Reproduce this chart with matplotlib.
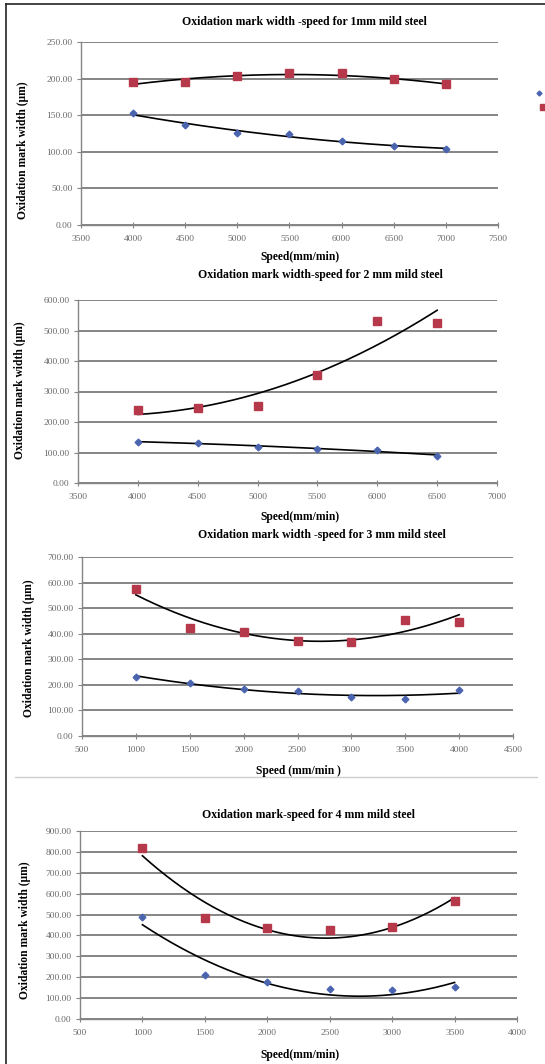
import numpy as np
import matplotlib
matplotlib.use('Agg')
import matplotlib.pyplot as plt
from matplotlib.lines import Line2D

# размеры картинки в пикселях
W, H = 545, 1064

# --- данные ---
# 1 мм
speed_1mm = [4000, 4500, 5000, 5500, 6000, 6500, 7000]
blue_1mm = [153, 136, 126, 124, 115, 108, 104]
red_1mm = [195, 195, 203, 207, 207, 199, 192]

# 2 мм
speed_2mm = [4000, 4500, 5000, 5500, 6000, 6500]
blue_2mm = [136, 130, 119, 113, 107, 90]
red_2mm = [240, 245, 251, 354, 531, 526]

# 3 мм
speed_3mm = [1000, 1500, 2000, 2500, 3000, 3500, 4000]
blue_3mm = [230, 209, 183, 176, 153, 144, 178]
red_3mm = [576, 424, 405, 373, 367, 455, 447]

# 4 мм
speed_4mm = [1000, 1500, 2000, 2500, 3000, 3500]
blue_4mm = [490, 211, 175, 145, 138, 153]
red_4mm = [819, 485, 437, 426, 440, 567]

titles = ['Oxidation mark width -speed for 1mm mild steel',
          'Oxidation mark width-speed for 2 mm mild steel',
          'Oxidation mark width -speed for 3 mm mild steel',
          'Oxidation mark-speed for 4 mm mild steel']
xlabels = ['Speed(mm/min)', 'Speed(mm/min)', 'Speed (mm/min )', 'Speed(mm/min)']
ylabel = 'Oxidation mark width (\u00b5m)'

serif = ['Liberation Serif', 'DejaVu Serif']
blue = '#4a64b0'
red = '#b5394a'
grid_c = '#858585'
tick_c = '#6a6a6a'


def px(x, y):
    return x / W, 1 - y / H


# положение осей в пикселях, пределы и шаг сетки
panels = [
    dict(xs=speed_1mm, b=blue_1mm, r=red_1mm, px=(81, 498), py=(42, 225),
         xlim=(3500, 7500), ylim=(0, 250), ystep=50,
         title_xy=(304, 22), xl_xy=(300, 257), yl_xy=(23, 150)),
    dict(xs=speed_2mm, b=blue_2mm, r=red_2mm, px=(78, 497), py=(300, 483),
         xlim=(3500, 7000), ylim=(0, 600), ystep=100,
         title_xy=(320, 275), xl_xy=(300, 517), yl_xy=(20, 390)),
    dict(xs=speed_3mm, b=blue_3mm, r=red_3mm, px=(82, 513), py=(557, 736),
         xlim=(500, 4500), ylim=(0, 700), ystep=100,
         title_xy=(322, 535), xl_xy=(298, 771), yl_xy=(29, 648)),
    dict(xs=speed_4mm, b=blue_4mm, r=red_4mm, px=(80, 517), py=(831, 1019),
         xlim=(500, 4000), ylim=(0, 900), ystep=100,
         title_xy=(309, 815), xl_xy=(300, 1055), yl_xy=(25, 930)),
]

fig = plt.figure(figsize=(W / 100, H / 100), dpi=100)
fig.patch.set_facecolor('white')

for i, p in enumerate(panels):
    x0, x1 = p['px']
    y0, y1 = p['py']
    ax = fig.add_axes([x0 / W, 1 - y1 / H, (x1 - x0) / W, (y1 - y0) / H])
    ax.set_xlim(*p['xlim'])
    ax.set_ylim(*p['ylim'])
    ax.set_yticks(np.arange(p['ylim'][0], p['ylim'][1] + 1, p['ystep']))
    ax.set_xticks(np.arange(p['xlim'][0], p['xlim'][1] + 1, 500))
    ax.yaxis.set_major_formatter(matplotlib.ticker.FormatStrFormatter('%.2f'))
    ax.grid(axis='y', color=grid_c, linewidth=1.4)
    ax.set_axisbelow(True)
    for s in ['top', 'right']:
        ax.spines[s].set_visible(False)
    for s in ['left', 'bottom']:
        ax.spines[s].set_color(grid_c)
        ax.spines[s].set_linewidth(1.0)
    ax.tick_params(axis='x', direction='inout', length=5, color=grid_c,
                   labelsize=6.8, labelcolor=tick_c, pad=5)
    ax.tick_params(axis='y', direction='out', length=3, color=grid_c,
                   labelsize=6.8, labelcolor=tick_c, pad=3)
    for lab in ax.get_xticklabels() + ax.get_yticklabels():
        lab.set_family(serif)

    xs = np.array(p['xs'], dtype=float)
    # линии тренда - полином 2-й степени
    xx = np.linspace(xs.min(), xs.max(), 200)
    for ys in (p['b'], p['r']):
        c = np.polyfit(xs, ys, 2)
        ax.plot(xx, np.polyval(c, xx), color='black', linewidth=1.2, zorder=3)
    ax.plot(xs, p['b'], 'D', color=blue, markersize=3.4, zorder=4)
    ax.plot(xs, p['r'], 's', color=red, markersize=5.2, zorder=4)

    tx, ty = px(*p['title_xy'])
    fig.text(tx, ty, titles[i], ha='center', va='center', fontsize=8.5,
             fontweight='bold', family=serif)
    lx, ly = px(*p['xl_xy'])
    fig.text(lx, ly, xlabels[i], ha='center', va='center', fontsize=8.3,
             fontweight='bold', family=serif)
    yx, yy = px(*p['yl_xy'])
    fig.text(yx, yy, ylabel, ha='center', va='center', rotation=90,
             fontsize=8.3, fontweight='bold', family=serif)

# обрывок легенды у правого края первого графика
fig.add_artist(Line2D([539 / W], [1 - 93 / H], marker='D', color=blue,
                      markersize=2.5, linestyle='none'))
fig.add_artist(Line2D([543 / W], [1 - 107 / H], marker='s', color=red,
                      markersize=4.5, linestyle='none'))

# рамка слева и сверху, разделитель между графиками
fig.add_artist(Line2D([6 / W, 6 / W], [0, 1 - 4 / H], color='#222222', linewidth=1.2))
fig.add_artist(Line2D([6 / W, 1], [1 - 4 / H, 1 - 4 / H], color='#222222', linewidth=1.2))
fig.add_artist(Line2D([15 / W, 537 / W], [1 - 777 / H, 1 - 777 / H],
                      color='#cfcfcf', linewidth=1.0))

fig.savefig('out.png', dpi=100)
